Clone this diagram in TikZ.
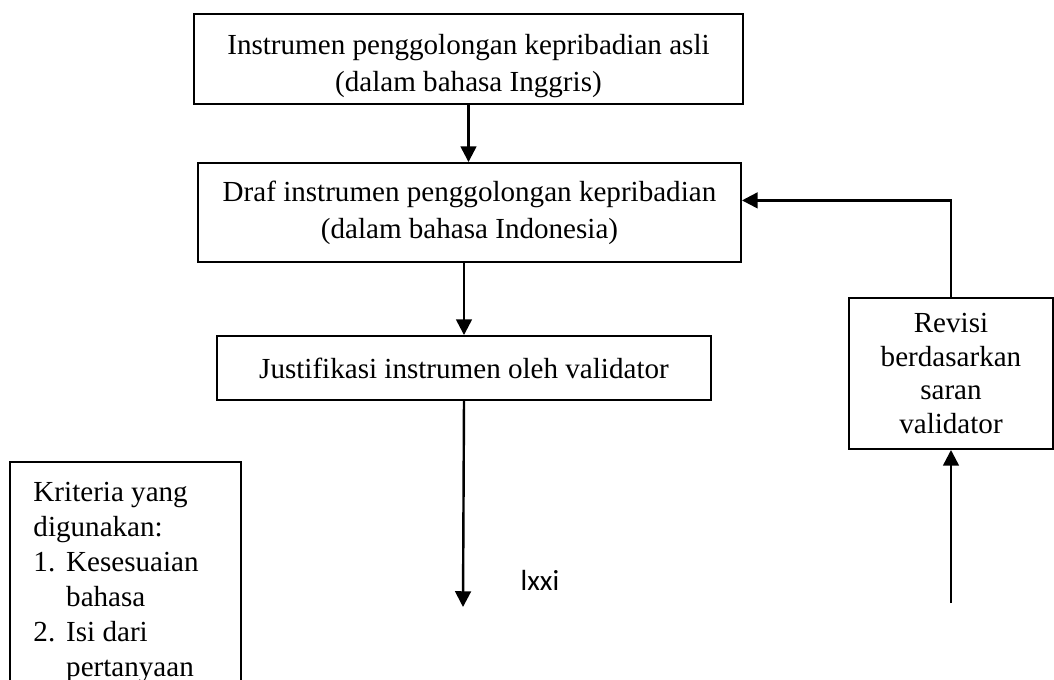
\documentclass[tikz,border=0pt]{standalone}
\usepackage{fontspec}
\setmainfont{Liberation Serif}
\newfontfamily\calibri{Carlito}
\usetikzlibrary{arrows.meta}
\newcommand\pxu{0.4125pt}
\tikzset{>/.tip={Triangle[length=6.5pt,width=6.5pt]},
  kotak/.style={draw, line width=0.8pt, align=center, inner sep=0pt,
    font=\fontsize{12}{15.3}\selectfont},
  panah/.style={->, line width=1pt}}

\begin{document}
\begin{tikzpicture}[x=0.4125pt, y=-0.4125pt]
\useasboundingbox (0,0) rectangle (1054,679);
\clip (0,0) rectangle (1054,679);
\node[kotak, minimum width=549*\pxu, minimum height=90*\pxu] (asli) at (468.5,59)
  {\rule{0pt}{14pt}Instrumen penggolongan kepribadian asli\\(dalam bahasa Inggris)};
\node[kotak, minimum width=543*\pxu, minimum height=99*\pxu] (draf) at (469.5,212.5)
  {Draf instrumen penggolongan kepribadian\\(dalam bahasa Indonesia)};
\node[kotak, minimum width=494*\pxu, minimum height=64*\pxu] (justifikasi) at (464,368)
  {Justifikasi instrumen oleh validator};
\node[kotak, minimum width=204*\pxu, minimum height=151*\pxu,
  font=\fontsize{12}{14}\selectfont] (revisi) at (951,373.5)
  {Revisi\\berdasarkan\\saran\\validator};
\node[anchor=north west, align=left, inner sep=0pt,
  font=\fontsize{12}{14.4}\selectfont] (kriteria) at (33,482)
  {Kriteria yang\\digunakan:\\\makebox[13.5pt][l]{1.}Kesesuaian\\\hspace*{13.5pt}bahasa\\
   \makebox[13.5pt][l]{2.}Isi dari\\\hspace*{13.5pt}pertanyaan};
\draw[line width=0.8pt] (10,700) |- (241,462) -- (241,700);
\node[font=\calibri\fontsize{12}{14}\selectfont] (halaman) at (540,580) {lxxi};
\coordinate (ujung) at (463,607);
\coordinate (bawah) at (951,603);
\draw[panah] (asli.south) -- (asli.south |- draf.north);
\draw[panah] (justifikasi.north |- draf.south) -- (justifikasi.north);
\draw[panah] (justifikasi.south) -- (ujung);
\draw[panah] (bawah) -- (revisi.south);
\draw[panah] (revisi.north) |- ([yshift=5pt]draf.east);
\end{tikzpicture}
\end{document}
